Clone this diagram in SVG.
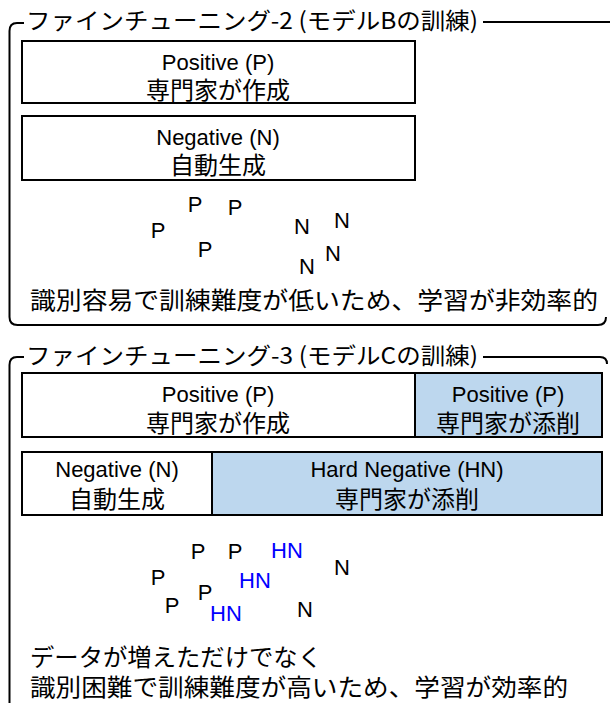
<svg xmlns="http://www.w3.org/2000/svg" width="610" height="703" viewBox="0 0 610 703">
<style>
.t{font-family:"Liberation Sans","Noto Sans CJK JP",sans-serif;fill:#000;text-anchor:middle}
.e{font-size:22px}
.j{font-size:24px;font-family:"Noto Sans CJK JP","Liberation Sans",sans-serif}
.jp{font-family:"Noto Sans CJK JP","Liberation Sans",sans-serif;fill:#000}
.box{stroke:#000;stroke-width:2;fill:#fff}
.blue{stroke:#000;stroke-width:2;fill:#bdd7ee}
.br{stroke:#000;stroke-width:2;fill:none}
.l{font-family:"Liberation Sans",Arial,sans-serif;font-size:22px;text-anchor:middle}
.k{fill:#000}
.h{fill:#0000ff}
</style>
<g id="connectors">
<path class="br" d="M24 23 L17 23 Q9.5 23 9.5 31 L9.5 317 Q9.5 325 17.5 325 L598 325 Q606 325 606 317"/>
<path class="br" d="M483 22 L610 22"/>
<path class="br" d="M24 357 L17 357 Q9.5 357 9.5 365 L9.5 703"/>
<path class="br" d="M483 357 L600 357 Q607 357 607 364"/>
</g>
<g id="section1">
<text class="jp" x="26" y="29" font-size="23" textLength="452" lengthAdjust="spacingAndGlyphs">ファインチューニング-2 (モデルBの訓練)</text>
<g id="p1">
<rect class="box" x="22" y="41" width="393" height="62"/>
<text class="t e" x="218" y="70">Positive (P)</text>
<text class="t j" x="218" y="99">専門家が作成</text>
</g>
<g id="n1">
<rect class="box" x="22" y="116" width="393" height="64"/>
<text class="t e" x="218" y="145">Negative (N)</text>
<text class="t j" x="218" y="174">自動生成</text>
</g>
<g id="pts1" class="l">
<text class="k" x="158" y="238">P</text>
<text class="k" x="195" y="212">P</text>
<text class="k" x="235" y="215">P</text>
<text class="k" x="205" y="257">P</text>
<text class="k" x="302" y="234">N</text>
<text class="k" x="342" y="228">N</text>
<text class="k" x="333" y="261">N</text>
<text class="k" x="307" y="274">N</text>
</g>
<text class="jp" x="30" y="309" font-size="24" textLength="568" lengthAdjust="spacingAndGlyphs">識別容易で訓練難度が低いため、学習が非効率的</text>
</g>
<g id="section2">
<text class="jp" x="26" y="364" font-size="23" textLength="452" lengthAdjust="spacingAndGlyphs">ファインチューニング-3 (モデルCの訓練)</text>
<g id="p2">
<rect class="box" x="22" y="373" width="393" height="64"/>
<text class="t e" x="218" y="402">Positive (P)</text>
<text class="t j" x="218" y="432">専門家が作成</text>
</g>
<g id="p2b">
<rect class="blue" x="415" y="373" width="187" height="64"/>
<text class="t e" x="508" y="402">Positive (P)</text>
<text class="t j" x="508" y="432">専門家が添削</text>
</g>
<g id="n2">
<rect class="box" x="22" y="452" width="190" height="63"/>
<text class="t e" x="117" y="477">Negative (N)</text>
<text class="t j" x="117" y="508">自動生成</text>
</g>
<g id="hn2">
<rect class="blue" x="212" y="452" width="390" height="63"/>
<text class="t e" x="407" y="477">Hard Negative (HN)</text>
<text class="t j" x="407" y="508">専門家が添削</text>
</g>
<g id="pts2" class="l">
<text class="k" x="198" y="559">P</text>
<text class="k" x="235" y="559">P</text>
<text class="h" x="287" y="558">HN</text>
<text class="k" x="158" y="585">P</text>
<text class="h" x="255" y="588">HN</text>
<text class="k" x="342" y="575">N</text>
<text class="k" x="205" y="600">P</text>
<text class="k" x="172" y="613">P</text>
<text class="h" x="226" y="621">HN</text>
<text class="k" x="305" y="617">N</text>
</g>
<text class="jp" x="30" y="666" font-size="24" textLength="292" lengthAdjust="spacingAndGlyphs">データが増えただけでなく</text>
<text class="jp" x="30" y="696" font-size="24" textLength="538" lengthAdjust="spacingAndGlyphs">識別困難で訓練難度が高いため、学習が効率的</text>
</g>
</svg>
